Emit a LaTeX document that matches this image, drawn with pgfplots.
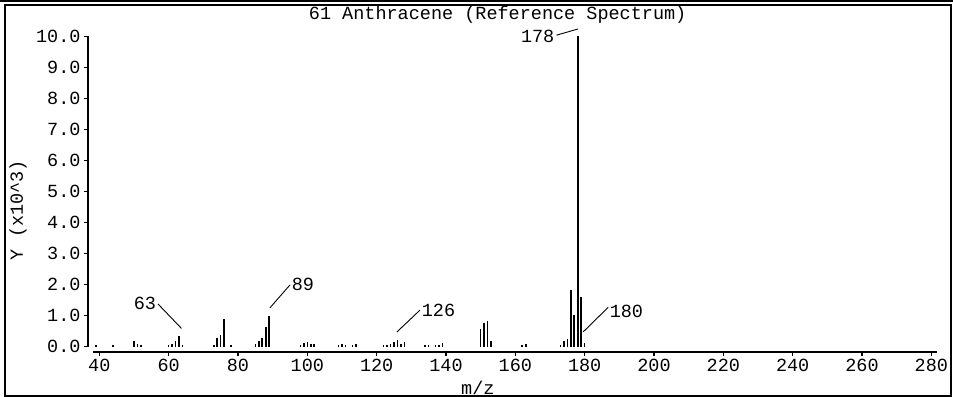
\documentclass[border=0pt]{standalone}
\usepackage{fontspec}
\setmainfont{Liberation Mono}
\usepackage{pgfplots}
\pgfplotsset{compat=1.18}

\pgfplotstableread{
mz y
39 0.06
44 0.04
50 0.18
51 0.10
52 0.05
60 0.04
61 0.10
62 0.18
63 0.33
64 0.06
73 0.05
74 0.28
75 0.38
76 0.90
78 0.05
85 0.09
86 0.17
87 0.28
88 0.65
89 1.00
98 0.06
99 0.13
100 0.15
101 0.10
102 0.10
109 0.06
110 0.08
111 0.05
113 0.07
114 0.08
122 0.05
123 0.05
124 0.10
125 0.15
126 0.20
127 0.10
128 0.15
134 0.04
135 0.04
137 0.05
138 0.06
139 0.13
150 0.57
151 0.76
152 0.82
153 0.17
162 0.05
163 0.08
173 0.05
174 0.18
175 0.25
176 1.84
177 1.03
178 10.00
179 1.59
180 0.13
}\spectrum

\begin{document}
\begin{tikzpicture}[font=\fontsize{18.5}{20}\selectfont]
\begin{axis}[
  name=ax,
  scale only axis,
  width=849pt, height=315.6pt,
  xmin=36.74, xmax=281.6,
  ymin=-0.17, ymax=10,
  axis x line*=bottom, axis y line*=left,
  axis line style={draw=none},
  tick align=outside,
  major tick length=4pt,
  tick style={black, line width=1.2pt},
  xtick={40,60,...,280},
  ytick={0,1,...,10},
  yticklabel style={/pgf/number format/.cd, fixed, fixed zerofill, precision=1},
  /pgf/number format/assume math mode=true,
  ticklabel style={font=\fontsize{18.5}{20}\selectfont},
  clip=false,
]
\addplot[ycomb, black, line width=1.6pt, mark=none] table[x=mz, y=y] {\spectrum};

% axis lines
\draw[line width=2pt] (axis cs:38.18,-0.17) -- (axis cs:281.6,-0.17);
\draw[line width=2pt] (axis cs:36.74,0) -- (axis cs:36.74,10);

% peak labels
\draw[line width=0.9pt] (axis cs:171.9,10.04) -- (axis cs:178.1,10.24);
\node[anchor=east, inner sep=1pt] at (axis cs:171.6,10.0) {178};
\draw[line width=0.9pt] (axis cs:56.9,1.38) -- (axis cs:63.7,0.59);
\node[anchor=east, inner sep=1pt] at (axis cs:56.7,1.38) {63};
\draw[line width=0.9pt] (axis cs:89.2,1.25) -- (axis cs:95.0,1.99);
\node[anchor=west, inner sep=1pt] at (axis cs:95.2,2.0) {89};
\draw[line width=0.9pt] (axis cs:125.8,0.47) -- (axis cs:132.5,1.18);
\node[anchor=west, inner sep=1pt] at (axis cs:132.7,1.18) {126};
\draw[line width=0.9pt] (axis cs:179.6,0.48) -- (axis cs:186.8,1.27);
\node[anchor=west, inner sep=1pt] at (axis cs:186.9,1.13) {180};

% title and axis labels
\node at (axis cs:154.9,10.69) {61 Anthracene (Reference Spectrum)};
\node[rotate=90] at (axis cs:16.55,4.4) {Y (x10\^{}3)};
\node at (axis cs:149.2,-1.33) {m/z};

% frame
\draw[line width=1.5pt] (axis cs:12.8,11.012) -- (axis cs:12.8,-1.59)
  -- (axis cs:285.66,-1.59) -- (axis cs:285.66,11.012) -- cycle;
\draw[line width=1.2pt] (axis cs:11.36,11.14) -- (axis cs:286.24,11.14);
\coordinate (bl) at (axis cs:11.36,-1.621);
\coordinate (tr) at (axis cs:286.24,11.173);
\end{axis}
\pgfresetboundingbox
\useasboundingbox (bl) rectangle (tr);
\end{tikzpicture}
\end{document}
